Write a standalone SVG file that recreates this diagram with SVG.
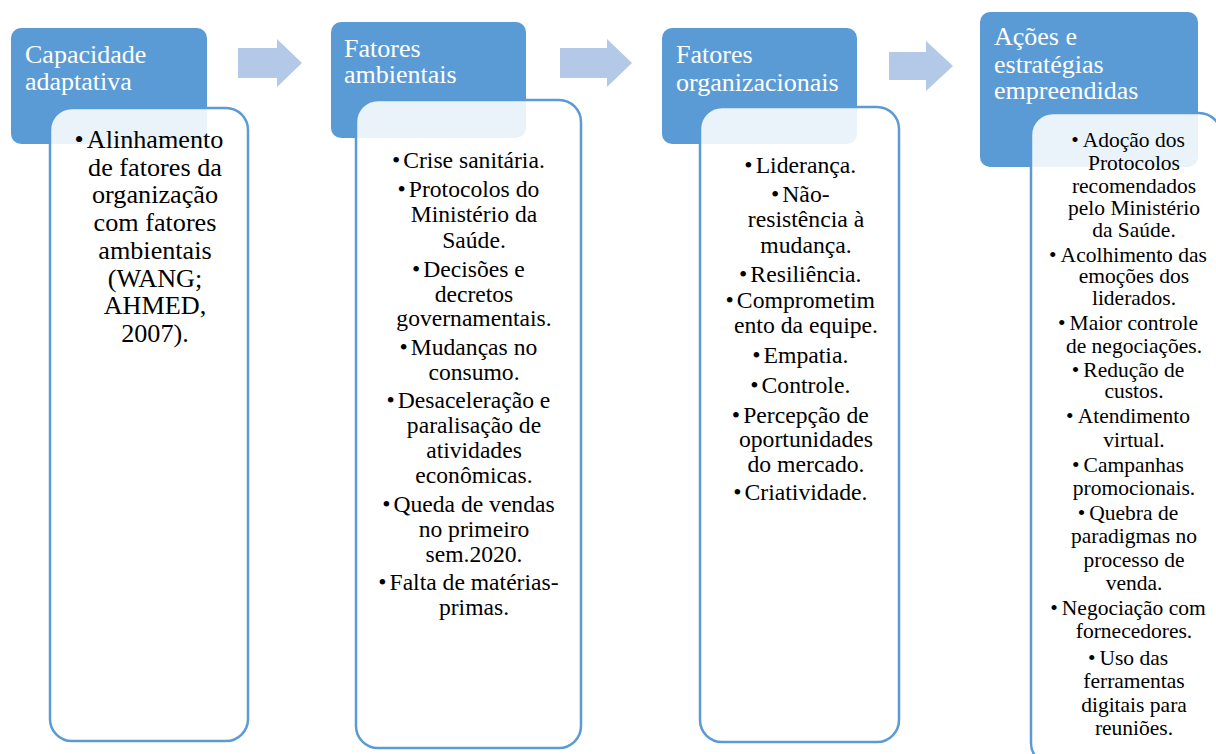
<svg xmlns="http://www.w3.org/2000/svg" width="1216" height="754" viewBox="0 0 1216 754">
<style>
.hdr{fill:#5B9BD5;}
.body{fill:#FFFFFF;fill-opacity:0.88;stroke:#5B9BD5;stroke-width:2.5;}
.arrow{fill:#B4C8E8;}
.ht{font-size:26px;fill:#FFFFFF;}
.bt{fill:#000000;text-anchor:middle;}
.b1{font-size:26.2px;}
.b2{font-size:23.6px;}
.b3{font-size:23.7px;}
.b4{font-size:21.5px;}
.serif{font-family:'Liberation Serif','Times New Roman',serif;}
</style>
<rect width="1216" height="754" fill="#FFFFFF"/>
<g id="connectors">
<polygon class="arrow" points="238,48 277,48 277,39 302,63 277,87 277,78 238,78"/>
<polygon class="arrow" points="560,48 607,48 607,39 632,63 607,87 607,78 560,78"/>
<polygon class="arrow" points="889,52 926,52 926,41 953,66 926,91 926,80 889,80"/>
</g>
<g class="serif">
<g id="capacidade-adaptativa">
<rect class="hdr" x="11" y="28" width="196" height="116" rx="10"/>
<text class="ht"><tspan x="25" y="63">Capacidade</tspan><tspan x="25" y="90">adaptativa</tspan></text>
</g>
<g id="capacidade-adaptativa-itens">
<rect class="body" x="50" y="108" width="198" height="633" rx="22"/>
<text class="bt b1" x="149" y="148">•<tspan dx="3">Alinhamento</tspan></text>
<text class="bt b1"><tspan x="155" y="175.7">de fatores da</tspan><tspan x="155" y="203.4">organização</tspan><tspan x="155" y="231">com fatores</tspan><tspan x="155" y="258.8">ambientais</tspan><tspan x="155" y="286.5">(WANG;</tspan><tspan x="155" y="314">AHMED,</tspan><tspan x="155" y="342">2007).</tspan></text>
</g>
<g id="fatores-ambientais">
<rect class="hdr" x="331" y="22" width="195" height="116" rx="10"/>
<text class="ht"><tspan x="344" y="57">Fatores</tspan><tspan x="344" y="83">ambientais</tspan></text>
</g>
<g id="fatores-ambientais-itens">
<rect class="body" x="356" y="100" width="225" height="648" rx="22"/>
<text class="bt b2" x="468.4" y="168">•<tspan dx="3">Crise sanitária.</tspan></text>
<text class="bt b2" x="468.4" y="197">•<tspan dx="3">Protocolos do</tspan></text>
<text class="bt b2"><tspan x="474" y="222">Ministério da</tspan><tspan x="474" y="248">Saúde.</tspan></text>
<text class="bt b2" x="468.4" y="277">•<tspan dx="3">Decisões e</tspan></text>
<text class="bt b2"><tspan x="474" y="302">decretos</tspan><tspan x="474" y="326">governamentais.</tspan></text>
<text class="bt b2" x="468.4" y="355">•<tspan dx="3">Mudanças no</tspan></text>
<text class="bt b2"><tspan x="474" y="380">consumo.</tspan></text>
<text class="bt b2" x="468.4" y="408">•<tspan dx="3">Desaceleração e</tspan></text>
<text class="bt b2"><tspan x="474" y="433">paralisação de</tspan><tspan x="474" y="458">atividades</tspan><tspan x="474" y="483">econômicas.</tspan></text>
<text class="bt b2" x="468.4" y="512">•<tspan dx="3">Queda de vendas</tspan></text>
<text class="bt b2"><tspan x="474" y="537">no primeiro</tspan><tspan x="474" y="562">sem.2020.</tspan></text>
<text class="bt b2" x="468.4" y="590">•<tspan dx="3">Falta de matérias-</tspan></text>
<text class="bt b2"><tspan x="474" y="615">primas.</tspan></text>
</g>
<g id="fatores-organizacionais">
<rect class="hdr" x="662" y="28" width="195" height="116" rx="10"/>
<text class="ht"><tspan x="676" y="63">Fatores</tspan><tspan x="676" y="91">organizacionais</tspan></text>
</g>
<g id="fatores-organizacionais-itens">
<rect class="body" x="700" y="107" width="199" height="635" rx="22"/>
<text class="bt b3" x="800.3" y="173">•<tspan dx="3">Liderança.</tspan></text>
<text class="bt b3" x="800.3" y="202">•<tspan dx="3">Não-</tspan></text>
<text class="bt b3"><tspan x="806" y="227">resistência à</tspan><tspan x="806" y="253">mudança.</tspan></text>
<text class="bt b3" x="800.3" y="282">•<tspan dx="3">Resiliência.</tspan></text>
<text class="bt b3" x="800.3" y="308">•<tspan dx="3">Comprometim</tspan></text>
<text class="bt b3"><tspan x="806" y="333">ento da equipe.</tspan></text>
<text class="bt b3" x="800.3" y="363">•<tspan dx="3">Empatia.</tspan></text>
<text class="bt b3" x="800.3" y="393">•<tspan dx="3">Controle.</tspan></text>
<text class="bt b3" x="800.3" y="423">•<tspan dx="3">Percepção de</tspan></text>
<text class="bt b3"><tspan x="806" y="447">oportunidades</tspan><tspan x="806" y="472">do mercado.</tspan></text>
<text class="bt b3" x="800.3" y="500">•<tspan dx="3">Criatividade.</tspan></text>
</g>
<g id="acoes-estrategias">
<rect class="hdr" x="980" y="12" width="218" height="155" rx="10"/>
<text class="ht"><tspan x="994" y="45">Ações e</tspan><tspan x="994" y="73">estratégias</tspan><tspan x="994" y="99">empreendidas</tspan></text>
</g>
<g id="acoes-estrategias-itens">
<rect class="body" x="1031" y="113" width="190" height="652" rx="22"/>
<text class="bt b4" x="1128" y="147">•<tspan dx="4">Adoção dos</tspan></text>
<text class="bt b4"><tspan x="1134" y="170">Protocolos</tspan><tspan x="1134" y="193">recomendados</tspan><tspan x="1134" y="215">pelo Ministério</tspan><tspan x="1134" y="237">da Saúde.</tspan></text>
<text class="bt b4" x="1128" y="262">•<tspan dx="4">Acolhimento das</tspan></text>
<text class="bt b4"><tspan x="1134" y="283">emoções dos</tspan><tspan x="1134" y="305">liderados.</tspan></text>
<text class="bt b4" x="1128" y="330">•<tspan dx="4">Maior controle</tspan></text>
<text class="bt b4"><tspan x="1134" y="353">de negociações.</tspan></text>
<text class="bt b4" x="1128" y="377">•<tspan dx="4">Redução de</tspan></text>
<text class="bt b4"><tspan x="1134" y="398">custos.</tspan></text>
<text class="bt b4" x="1128" y="423">•<tspan dx="4">Atendimento</tspan></text>
<text class="bt b4"><tspan x="1134" y="447">virtual.</tspan></text>
<text class="bt b4" x="1128" y="472">•<tspan dx="4">Campanhas</tspan></text>
<text class="bt b4"><tspan x="1134" y="495">promocionais.</tspan></text>
<text class="bt b4" x="1128" y="520">•<tspan dx="4">Quebra de</tspan></text>
<text class="bt b4"><tspan x="1134" y="543">paradigmas no</tspan><tspan x="1134" y="567">processo de</tspan><tspan x="1134" y="590">venda.</tspan></text>
<text class="bt b4" x="1128" y="615">•<tspan dx="4">Negociação com</tspan></text>
<text class="bt b4"><tspan x="1134" y="638">fornecedores.</tspan></text>
<text class="bt b4" x="1128" y="665">•<tspan dx="4">Uso das</tspan></text>
<text class="bt b4"><tspan x="1134" y="688">ferramentas</tspan><tspan x="1134" y="712">digitais para</tspan><tspan x="1134" y="735">reuniões.</tspan></text>
</g>
</g>
</svg>
